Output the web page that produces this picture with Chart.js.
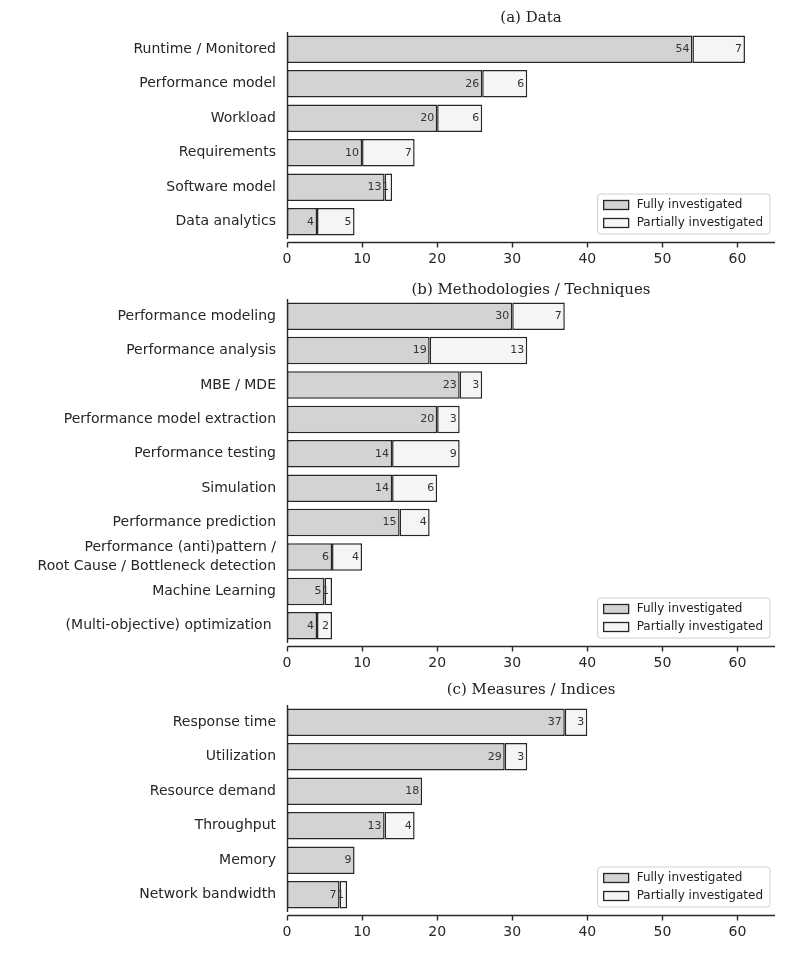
<!DOCTYPE html>
<html>
<head>
<meta charset="utf-8">
<script src="https://cdn.jsdelivr.net/npm/chart.js@4.4.1/dist/chart.umd.min.js"></script>
<style>
  body { margin: 0; background: #fff; }
  .box { position: absolute; left: 0; }
</style>
</head>
<body>
<div class="box" style="top:0px"><canvas id="chartA" width="789" height="271"></canvas></div>
<div class="box" style="top:271px"><canvas id="chartB" width="789" height="404"></canvas></div>
<div class="box" style="top:675px"><canvas id="chartC" width="789" height="269"></canvas></div>
<script>
// Data
const seriesNames = ['Fully investigated', 'Partially investigated'];
const xTicks = [0, 10, 20, 30, 40, 50, 60];

const dataLabels = ['Runtime / Monitored', 'Performance model', 'Workload', 'Requirements', 'Software model', 'Data analytics'];
const dataFully = [54, 26, 20, 10, 13, 4];
const dataPartial = [7, 6, 6, 7, 1, 5];

const methodLabels = ['Performance modeling', 'Performance analysis', 'MBE / MDE', 'Performance model extraction',
  'Performance testing', 'Simulation', 'Performance prediction',
  ['Performance (anti)pattern /', 'Root Cause / Bottleneck detection'],
  'Machine Learning', '(Multi-objective) optimization '];
const methodFully = [30, 19, 23, 20, 14, 14, 15, 6, 5, 4];
const methodPartial = [7, 13, 3, 3, 9, 6, 4, 4, 1, 2];

const measureLabels = ['Response time', 'Utilization', 'Resource demand', 'Throughput', 'Memory', 'Network bandwidth'];
const measureFully = [37, 29, 18, 13, 9, 7];
const measurePartial = [3, 3, 0, 4, 0, 1];

const fillColors = ['#d3d3d3', '#f5f5f5'];
const edgeColor = '#262626';
const spineColor = '#2a2a2a';

// spines (offset like the original), values inside bars, title, legend bottom-right
const decorPlugin = {
  id: 'decor',
  afterDatasetsDraw(chart) {
    const ctx = chart.ctx;
    const area = chart.chartArea;
    const xs = chart.scales.x;
    ctx.save();
    // spines
    ctx.strokeStyle = spineColor;
    ctx.lineWidth = 1.4;
    ctx.beginPath();
    const sx = Math.round(area.left) + 0.5;
    ctx.moveTo(sx, area.top);
    ctx.lineTo(sx, area.bottom);
    const axisY = Math.round(area.bottom) + 3.5;
    ctx.moveTo(sx, axisY);
    ctx.lineTo(area.right, axisY);
    xTicks.forEach(v => {
      const px = Math.round(xs.getPixelForValue(v)) + 0.5;
      ctx.moveTo(px, axisY);
      ctx.lineTo(px, axisY + 5);
    });
    ctx.stroke();
    // value labels
    ctx.font = '11px "DejaVu Sans"';
    ctx.fillStyle = '#333';
    ctx.textAlign = 'right';
    ctx.textBaseline = 'middle';
    chart.data.datasets.forEach((ds, i) => {
      chart.getDatasetMeta(i).data.forEach((bar, j) => {
        if (!ds.data[j]) return;
        ctx.fillText(String(ds.data[j]), bar.x - 3, bar.y);
      });
    });
    // title
    const opts = chart.options.plugins.decor;
    ctx.font = '15px "DejaVu Serif"';
    ctx.fillStyle = '#222';
    ctx.textAlign = 'center';
    ctx.fillText(opts.title, (area.left + area.right) / 2, opts.titleY);
    // legend
    ctx.font = '12px "DejaVu Sans"';
    let textW = 0;
    chart.data.datasets.forEach(ds => { textW = Math.max(textW, ctx.measureText(ds.label).width); });
    const w = 39 + textW + 7, h = 40;
    const x0 = area.right - 5 - w, y0 = area.bottom - 5 - h;
    ctx.beginPath();
    ctx.roundRect(x0, y0, w, h, 3);
    ctx.fillStyle = 'rgba(255,255,255,0.85)';
    ctx.fill();
    ctx.strokeStyle = '#d0d0d0';
    ctx.lineWidth = 1;
    ctx.stroke();
    chart.data.datasets.forEach((ds, i) => {
      const cy = y0 + 11 + i * 18;
      ctx.fillStyle = ds.backgroundColor;
      ctx.fillRect(x0 + 6, cy - 4.5, 25, 9);
      ctx.strokeStyle = edgeColor;
      ctx.lineWidth = 1.3;
      ctx.strokeRect(x0 + 6, cy - 4.5, 25, 9);
      ctx.fillStyle = '#222';
      ctx.textAlign = 'left';
      ctx.fillText(ds.label, x0 + 39, cy);
    });
    ctx.restore();
  }
};

function makeChart(id, labels, fully, partial, title, padTop, titleY) {
  const ctx = document.getElementById(id).getContext('2d');
  return new Chart(ctx, {
    type: 'bar',
    data: {
      labels: labels,
      datasets: [fully, partial].map((vals, i) => ({
        label: seriesNames[i],
        data: vals,
        backgroundColor: fillColors[i],
        borderColor: edgeColor,
        borderWidth: 1.5,
        borderSkipped: false,
        barPercentage: 0.8,
        categoryPercentage: 1.0
      }))
    },
    options: {
      indexAxis: 'y',
      responsive: false,
      animation: false,
      layout: { padding: { top: padTop, right: 14, bottom: 0, left: 0 } },
      plugins: {
        legend: { display: false },
        tooltip: { enabled: false },
        decor: { title: title, titleY: titleY }
      },
      scales: {
        x: {
          stacked: true,
          min: 0,
          max: 65,
          afterBuildTicks: s => { s.ticks = xTicks.map(v => ({ value: v })); },
          afterFit: s => { s.height = 32; },
          grid: { display: false, drawTicks: false },
          border: { display: false },
          ticks: { color: '#262626', font: { family: 'DejaVu Sans', size: 14 }, padding: 12, maxRotation: 0 }
        },
        y: {
          stacked: true,
          afterFit: s => { s.width = 287; },
          grid: { display: false, drawTicks: false },
          border: { display: false },
          ticks: { color: '#262626', font: { family: 'DejaVu Sans', size: 14, lineHeight: 1.35 }, padding: 11, autoSkip: false }
        }
      }
    },
    plugins: [decorPlugin]
  });
}

makeChart('chartA', dataLabels, dataFully, dataPartial, '(a) Data', 32, 18);
makeChart('chartB', methodLabels, methodFully, methodPartial, '(b) Methodologies / Techniques', 28, 19);
makeChart('chartC', measureLabels, measureFully, measurePartial, '(c) Measures / Indices', 30, 15);
</script>
</body>
</html>
